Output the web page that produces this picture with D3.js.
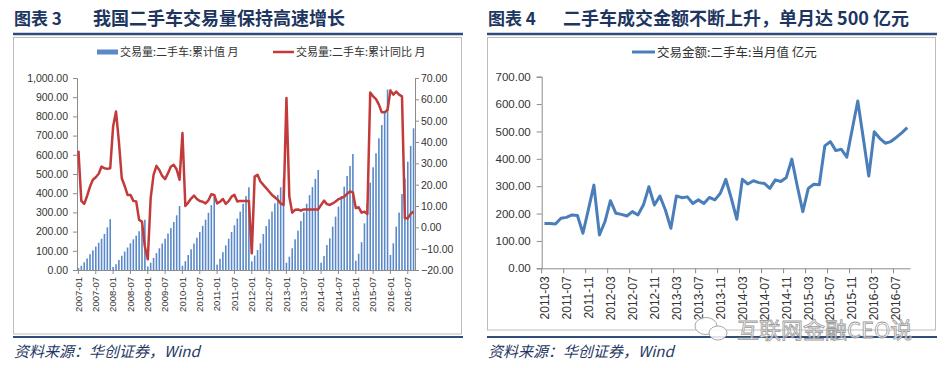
<!DOCTYPE html>
<html>
<head>
<meta charset="utf-8">
<script src="https://cdn.jsdelivr.net/npm/d3@7"></script>
<style>
body { margin: 0; background: #fff; }
svg text { font-family: "Liberation Sans", Arial, sans-serif; }
.cn { font-family: "Noto Sans CJK SC", sans-serif; }
.axis path, .axis line { stroke: #8c8c8c; }
.axis text { fill: #333; }
</style>
</head>
<body>
<svg id="chart" width="949" height="368"></svg>
<script>
// ---- data: left chart (monthly, 2007-01 .. 2016-09) ----
const leftMonths = d3.timeMonth.range(new Date(2007, 0, 1), new Date(2016, 9, 1)).map(d3.timeFormat("%Y-%m"));
const leftTicks = leftMonths.filter((d, i) => i % 6 === 0);

// 交易量:二手车:累计值 (万辆)
const volumeCum = [
    10, 22, 40, 60, 82, 102, 122, 142, 163, 188, 222, 265,
    16, 30, 52, 74, 96, 117, 139, 160, 179, 202, 228, 262,
    18, 38, 63, 88, 113, 138, 163, 190, 218, 250, 285, 333,
    22, 46, 78, 108, 138, 168, 198, 230, 262, 298, 338, 382,
    28, 58, 93, 128, 163, 198, 233, 268, 304, 345, 385, 431,
    45, 75, 104, 139, 187, 229, 264, 304, 347, 391, 431, 478,
    38, 69, 113, 160, 205, 255, 300, 345, 390, 432, 475, 521,
    38, 73, 130, 165, 226, 278, 330, 385, 434, 490, 542, 604,
    48, 85, 145, 243, 347, 455, 535, 608, 686, 755, 819, 940,
    78, 139, 226, 299, 396, 477, 564, 646, 738
];

// 交易量:二手车:累计同比 (%)
const volumeYoY = [
    35.9, 12.4, 11.0, 14.7, 19.1, 22.3, 23.5, 25.1, 28.5, 27.7, 27.4, 27.7,
    47.3, 54.3, 40.2, 23.0, 19.4, 15.2, 15.2, 12.4, 12.1, 3.5, 2.7, -9.1,
    -15.0, 13.7, 24.6, 28.8, 26.9, 24.1, 22.6, 25.4, 28.5, 29.3, 27.1, 22.3,
    44.2, 10.0, 11.6, 13.5, 14.9, 13.3, 12.3, 12.0, 11.2, 12.7, 15.5, 15.2,
    11.2, 12.0, 13.3, 11.0, 12.3, 14.4, 15.2, 12.1, 12.4, 12.4, 12.4, 12.4,
    -12.2, 23.8, 24.6, 21.5, 19.9, 18.4, 16.8, 15.2, 14.1, 12.9, 11.2, 10.5,
    60.6, 14.4, 6.9, 8.2, 8.4, 7.8, 8.4, 8.4, 8.4, 8.4, 8.4, 8.4,
    10.5, 12.5, 10.9, 10.5, 11.2, 12.1, 13.2, 13.7, 14.4, 15.7, 16.8, 16.4,
    9.0, 9.4, 6.9, 7.3, 6.3, 63.2, 61.4, 60.1, 57.5, 53.9, 53.9, 55.1,
    64.2, 62.2, 63.6, 62.2, 61.4, 4.3, 4.3, 6.3, 7.4
];

// ---- data: right chart (monthly, 2011-03 .. 2016-09) ----
const rightMonths = d3.timeMonth.range(new Date(2011, 2, 1), new Date(2016, 9, 1)).map(d3.timeFormat("%Y-%m"));
const rightTicks = rightMonths.filter((d, i) => i % 4 === 0);

// 交易金额:二手车:当月值 (亿元)
const amountMonthly = [
    164, 164, 162, 183, 186, 195, 193, 128, 215, 304,
    122, 170, 247, 201, 197, 191, 207, 195, 231, 298, 231, 264,
    213, 146, 264, 258, 261, 237, 250, 237, 259, 250, 274, 325,
    255, 179, 325, 308, 320, 313, 310, 292, 323, 317, 332, 399,
    300, 207, 292, 307, 305, 447, 463, 430, 435, 406, 509, 611,
    476, 337, 499, 475, 457, 463, 478, 495, 514
];

const leftTicksY = d3.range(0, 1001, 100);
const rightTicksY = d3.range(-20, 71, 10);
const amountTicksY = d3.range(0, 701, 100);

const svg = d3.select("#chart");
const navy = "#1d365f";

function drawFrame(x0, boxBottom, num, title) {
    const g = svg.append("g");
    const t = g.append("text").attr("class", "cn")
        .attr("x", x0).attr("y", 25)
        .attr("fill", navy).attr("font-weight", 700).attr("font-size", 17);
    t.append("tspan").text(num);
    g.append("text").attr("class", "cn")
        .attr("x", x0 + (num === "图表 3" ? 79 : 75)).attr("y", 25)
        .attr("fill", navy).attr("font-weight", 700).attr("font-size", 18)
        .text(title);
    g.append("line").attr("x1", x0 - 1).attr("x2", x0 + 449)
        .attr("y1", 34).attr("y2", 34)
        .attr("stroke", "#2f4c7a").attr("stroke-width", 2.5);
    g.append("rect").attr("x", x0 - 0.5).attr("y", 37.5)
        .attr("width", 448).attr("height", boxBottom - 37.5)
        .attr("fill", "none").attr("stroke", "#bdbdbd");
    g.append("line").attr("x1", x0 - 1).attr("x2", x0 + 449)
        .attr("y1", 337).attr("y2", 337)
        .attr("stroke", "#2f4c7a").attr("stroke-width", 2);
    g.append("text").attr("class", "cn")
        .attr("x", x0).attr("y", 357)
        .attr("fill", "#1f3864").attr("font-size", 15)
        .attr("font-style", "italic")
        .text("资料来源：华创证券，Wind");
}

drawFrame(14, 334, "图表 3", "我国二手车交易量保持高速增长");
drawFrame(488, 330, "图表 4", "二手车成交金额不断上升，单月达 500 亿元");

// ---------------- left chart ----------------
const xL = d3.scaleBand().domain(leftMonths).range([77, 415])
    .paddingInner(0.45).paddingOuter(0.225);
const yL = d3.scaleLinear().domain([0, 1000]).range([270, 78]);
const yR = d3.scaleLinear().domain([-20, 70]).range([270, 78]);

svg.append("g").attr("class", "axis")
    .attr("transform", "translate(77,0)")
    .call(d3.axisLeft(yL).tickValues(leftTicksY).tickFormat(d3.format(",.2f")).tickSize(4).tickPadding(5))
    .call(g => g.selectAll("text").attr("font-size", 10.5));

svg.append("g").attr("class", "axis")
    .attr("transform", "translate(415,0)")
    .call(d3.axisRight(yR).tickValues(rightTicksY).tickFormat(d3.format(".2f")).tickSize(4).tickPadding(2))
    .call(g => g.selectAll("text").attr("font-size", 10.5));

svg.selectAll(".bar")
    .data(volumeCum)
    .enter()
    .append("rect")
    .attr("class", "bar")
    .attr("x", (d, i) => xL(leftMonths[i]))
    .attr("width", xL.bandwidth())
    .attr("y", d => yL(d))
    .attr("height", d => yL(0) - yL(d))
    .attr("fill", "#5a88c8");

svg.append("g").attr("class", "axis")
    .attr("transform", "translate(0,270)")
    .call(d3.axisBottom(xL).tickValues(leftTicks).tickSize(4).tickSizeOuter(0))
    .call(g => g.selectAll("text")
        .attr("font-size", 9.5)
        .attr("transform", "rotate(-90)")
        .attr("x", -7).attr("y", 0).attr("dy", "0.35em")
        .attr("text-anchor", "end"));

const lineL = d3.line()
    .x((d, i) => xL(leftMonths[i]) + xL.bandwidth() / 2)
    .y(d => yR(d));

svg.append("path")
    .datum(volumeYoY)
    .attr("fill", "none")
    .attr("stroke", "#c23a3a")
    .attr("stroke-width", 2.5)
    .attr("stroke-linejoin", "round")
    .attr("d", lineL);

// legend left
svg.append("rect").attr("x", 97).attr("y", 49.5).attr("width", 21).attr("height", 5).attr("fill", "#5a88c8");
svg.append("text").attr("class", "cn").attr("x", 120).attr("y", 56)
    .attr("font-size", 11).attr("fill", "#333").text("交易量:二手车:累计值 月");
svg.append("line").attr("x1", 273).attr("x2", 294).attr("y1", 52).attr("y2", 52)
    .attr("stroke", "#c23a3a").attr("stroke-width", 2.5);
svg.append("text").attr("class", "cn").attr("x", 296).attr("y", 56)
    .attr("font-size", 11).attr("fill", "#333").text("交易量:二手车:累计同比 月");

// ---------------- right chart ----------------
const xR = d3.scaleBand().domain(rightMonths).range([541.7, 910]);
const yA = d3.scaleLinear().domain([0, 700]).range([268.3, 76.7]);

svg.append("g").attr("class", "axis")
    .attr("transform", "translate(541.7,0)")
    .call(d3.axisLeft(yA).tickValues(amountTicksY).tickFormat(d3.format(".2f")).tickSize(5).tickPadding(6))
    .call(g => g.selectAll("text").attr("font-size", 11.5));

svg.append("g").attr("class", "axis")
    .attr("transform", "translate(0,268.3)")
    .call(d3.axisBottom(xR).tickValues(rightTicks).tickSize(5).tickSizeOuter(0))
    .call(g => g.selectAll(".tick line").attr("transform", `translate(${-xR.bandwidth() / 2},0)`))
    .call(g => g.selectAll("text")
        .attr("font-size", 12)
        .attr("transform", "rotate(-90)")
        .attr("x", -8).attr("y", 0).attr("dy", "0.35em")
        .attr("text-anchor", "end"));

const lineR = d3.line()
    .x((d, i) => xR(rightMonths[i]) + xR.bandwidth() / 2)
    .y(d => yA(d));

svg.append("path")
    .datum(amountMonthly)
    .attr("fill", "none")
    .attr("stroke", "#4a7ebb")
    .attr("stroke-width", 3)
    .attr("stroke-linejoin", "round")
    .attr("d", lineR);

// legend right
svg.append("line").attr("x1", 632).attr("x2", 655).attr("y1", 52).attr("y2", 52)
    .attr("stroke", "#4a7ebb").attr("stroke-width", 3);
svg.append("text").attr("class", "cn").attr("x", 657).attr("y", 56.5)
    .attr("font-size", 12.5).attr("fill", "#333").text("交易金额:二手车:当月值 亿元");

// watermark
const wm = svg.append("g").attr("opacity", 0.85);
wm.append("ellipse").attr("cx", 706).attr("cy", 326).attr("rx", 11).attr("ry", 8.5)
    .attr("fill", "#fff").attr("stroke", "#999");
wm.append("ellipse").attr("cx", 718).attr("cy", 333).attr("rx", 9).attr("ry", 7)
    .attr("fill", "#fff").attr("stroke", "#999");
wm.append("text").attr("class", "cn").attr("x", 737).attr("y", 338)
    .attr("font-size", 22).attr("fill", "#fff").attr("stroke", "#8a8a8a").attr("stroke-width", 0.8)
    .text("互联网金融CEO说");
</script>
</body>
</html>
